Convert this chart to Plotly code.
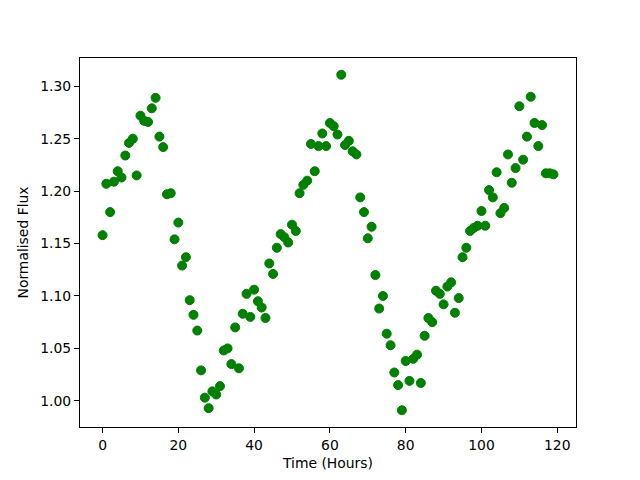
import plotly.graph_objects as go

time_hours = list(range(120))
flux = [
    1.158, 1.207, 1.180, 1.209, 1.219, 1.213, 1.234, 1.246, 1.250, 1.215,
    1.272, 1.267, 1.266, 1.279, 1.289, 1.252, 1.242, 1.197, 1.198, 1.154,
    1.170, 1.129, 1.137, 1.096, 1.082, 1.067, 1.029, 1.003, 0.993, 1.009,
    1.006, 1.014, 1.048, 1.050, 1.035, 1.070, 1.031, 1.083, 1.102, 1.080,
    1.106, 1.095, 1.089, 1.079, 1.131, 1.121, 1.146, 1.159, 1.156, 1.151,
    1.168, 1.162, 1.198, 1.206, 1.210, 1.245, 1.219, 1.243, 1.255, 1.243,
    1.265, 1.262, 1.254, 1.311, 1.244, 1.248, 1.238, 1.235, 1.194, 1.180,
    1.155, 1.166, 1.120, 1.088, 1.100, 1.064, 1.053, 1.027, 1.015, 0.991,
    1.038, 1.019, 1.040, 1.044, 1.017, 1.062, 1.079, 1.075, 1.105, 1.102,
    1.092, 1.109, 1.113, 1.084, 1.098, 1.137, 1.146, 1.162, 1.165, 1.167,
    1.181, 1.167, 1.201, 1.194, 1.218, 1.179, 1.184, 1.235, 1.208, 1.222,
    1.281, 1.230, 1.252, 1.290, 1.265, 1.243, 1.263, 1.217, 1.217, 1.216,
]
x_ticks = [0, 20, 40, 60, 80, 100, 120]
y_ticks = [1.00, 1.05, 1.10, 1.15, 1.20, 1.25, 1.30]

fig = go.Figure()
fig.add_trace(go.Scatter(
    x=time_hours, y=flux, mode="markers",
    marker=dict(color="#008000", size=9, line=dict(color="#008000", width=1)),
    showlegend=False,
))

font = dict(family="DejaVu Sans", size=13.9, color="black")
axis_common = dict(
    showline=True, mirror=True, linecolor="black", linewidth=1,
    showgrid=False, zeroline=False,
    ticks="outside", ticklen=5, tickwidth=1, tickcolor="black",
    tickfont=font,
)
xmin, xmax = min(time_hours), max(time_hours)
ymin, ymax = min(flux), max(flux)
xpad = 0.05 * (xmax - xmin)
ypad = 0.05 * (ymax - ymin)

fig.update_layout(
    width=640, height=480, autosize=False,
    margin=dict(l=72, r=72, t=50, b=61, pad=0),
    paper_bgcolor="white", plot_bgcolor="white",
    font=font,
    xaxis=dict(
        **axis_common,
        range=[xmin - xpad, xmax + xpad],
        tickvals=x_ticks, ticktext=[str(v) for v in x_ticks],
        title=dict(text="Time (Hours)", font=font, standoff=6),
    ),
    yaxis=dict(
        **axis_common,
        range=[ymin - ypad, ymax + ypad],
        tickvals=y_ticks, ticktext=[f"{v:.2f}" for v in y_ticks],
        title=dict(text="Normalised Flux", font=font, standoff=8),
    ),
)

fig.write_html("out.html")
